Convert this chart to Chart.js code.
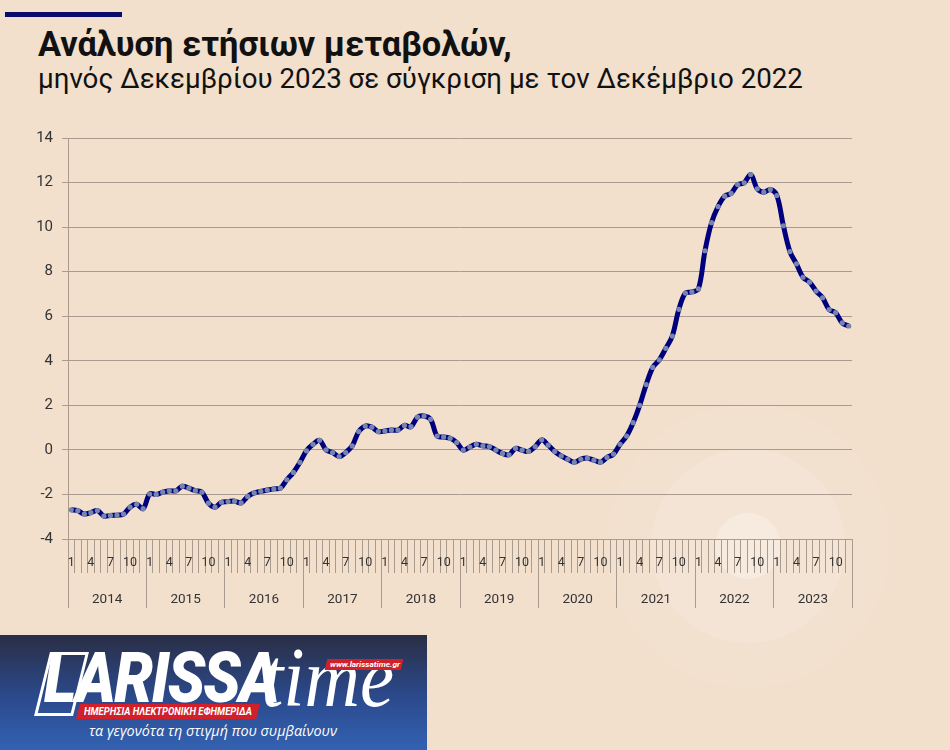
<!DOCTYPE html>
<html><head><meta charset="utf-8">
<script src="https://cdn.jsdelivr.net/npm/chart.js@4.4.1/dist/chart.umd.min.js"></script>
<style>
html,body{margin:0;padding:0;}
body{width:950px;height:750px;background:#f2dfcc;position:relative;overflow:hidden;font-family:Roboto,sans-serif;}
.circ{position:absolute;border-radius:50%;}
#c1{left:606px;top:404px;width:284px;height:284px;background:rgba(255,255,255,0.08);}
#c2{left:651px;top:449px;width:194px;height:194px;background:rgba(255,255,255,0.11);}
#c3{left:715px;top:513px;width:66px;height:66px;background:rgba(255,255,255,0.28);}
#bar{position:absolute;left:5px;top:12px;width:117px;height:5px;background:#0b0b6b;}
#title{position:absolute;left:38px;top:26px;font-weight:700;font-size:31px;color:#111;white-space:nowrap;line-height:1;}
#sub{position:absolute;left:38px;top:64px;font-size:27px;color:#111;white-space:nowrap;line-height:1;}
#wrap{position:absolute;left:0;top:120px;width:950px;height:500px;}
#logo{position:absolute;left:0;top:635px;width:427px;height:115px;background:linear-gradient(#2a2e45,#2b4a8e 55%,#3362b2);overflow:hidden;}
#logo div{position:absolute;white-space:nowrap;}
#lbox{left:42px;top:17px;width:33px;height:58px;border:3px solid #fff;transform:skewX(-14deg);}
#lar{left:44px;top:8px;color:#fff;font:italic 900 70px Roboto,sans-serif;line-height:1;letter-spacing:-2px;}
#time{left:262px;top:1px;color:#fff;font:italic 400 84px "Liberation Serif",serif;line-height:1;}
#band{left:78px;top:69px;width:180px;height:15px;background:#d1202a;transform:skewX(-14deg);}
#bandt{left:84px;top:70px;color:#fff;font:italic 700 11px Roboto,sans-serif;line-height:13px;}
#url{left:326px;top:24px;width:76px;height:11px;background:#d1202a;transform:skewX(-14deg);}
#urlt{left:330px;top:24px;color:#fff;font:italic 700 8px Roboto,sans-serif;line-height:11px;}
#tag{left:89px;top:86px;color:#fff;font:italic 400 15px "Open Sans",sans-serif;line-height:18px;}
</style></head>
<body>
<div class="circ" id="c1"></div><div class="circ" id="c2"></div><div class="circ" id="c3"></div>
<div id="bar"></div>
<div id="title">Ανάλυση ετήσιων μεταβολών,</div>
<div id="sub">μηνός Δεκεμβρίου 2023 σε σύγκριση με τον Δεκέμβριο 2022</div>
<div id="wrap"><canvas id="chart" width="950" height="500"></canvas></div>
<div id="logo">
  <div id="lbox"></div>
  <div id="lar">LARISSA</div>
  <div id="band"></div>
  <div id="bandt">ΗΜΕΡΗΣΙΑ ΗΛΕΚΤΡΟΝΙΚΗ ΕΦΗΜΕΡΙΔΑ</div>
  <div id="time">time</div>
  <div id="url"></div>
  <div id="urlt">www.larissatime.gr</div>
  <div id="tag">τα γεγονότα τη στιγμή που συμβαίνουν</div>
</div>
<script>
// ---- data ----
const years = ['2014','2015','2016','2017','2018','2019','2020','2021','2022','2023'];
const monthLabelsShown = ['1','4','7','10'];
const yTicks = [-4,-2,0,2,4,6,8,10,12,14];
const v2014 = [-2.69,-2.73,-2.88,-2.82,-2.72,-2.97,-2.94,-2.93,-2.88,-2.57,-2.44,-2.64];
const v2015 = [-1.98,-2.00,-1.90,-1.83,-1.84,-1.63,-1.72,-1.83,-1.90,-2.39,-2.57,-2.35];
const v2016 = [-2.32,-2.30,-2.38,-2.09,-1.93,-1.86,-1.80,-1.75,-1.72,-1.34,-1.01,-0.56];
const v2017 = [-0.04,0.25,0.43,0.00,-0.12,-0.30,-0.12,0.18,0.82,1.07,1.02,0.82];
const v2018 = [0.85,0.89,0.89,1.10,1.04,1.47,1.52,1.37,0.62,0.58,0.52,0.33];
const v2019 = [-0.01,0.13,0.25,0.18,0.15,-0.01,-0.16,-0.22,0.07,-0.01,-0.07,0.15];
const v2020 = [0.45,0.21,-0.07,-0.27,-0.42,-0.56,-0.42,-0.37,-0.46,-0.55,-0.34,-0.19];
const v2021 = [0.25,0.62,1.22,2.00,2.93,3.70,4.04,4.56,5.11,6.31,7.04,7.09];
const v2022 = [7.23,8.94,10.20,10.92,11.39,11.51,11.91,11.99,12.36,11.72,11.57,11.69];
const v2023 = [11.42,10.06,8.90,8.35,7.75,7.53,7.13,6.83,6.30,6.16,5.70,5.56];

const values = [].concat(v2014,v2015,v2016,v2017,v2018,v2019,v2020,v2021,v2022,v2023);
const categories = [];
years.forEach(y => { for (let m = 1; m <= 12; m++) categories.push(y + '-' + m); });

// ---- fit titles ----
function fitText(id, target, baseline) {
  const el = document.getElementById(id);
  const fs = parseFloat(getComputedStyle(el).fontSize);
  const w = el.getBoundingClientRect().width;
  const nfs = fs * target / w;
  el.style.fontSize = nfs + 'px';
  el.style.top = (baseline - 0.8415 * nfs) + 'px';
}
fitText('title', 474, 56);
fitText('sub', 765, 88);
function fitW(id, target) {
  const el = document.getElementById(id);
  const w = el.getBoundingClientRect().width;
  el.style.transformOrigin = '0 0';
  el.style.transform = 'scaleX(' + (target / w) + ')';
}
fitW('lar', 234);
fitW('time', 132);
fitW('bandt', 168);
fitW('urlt', 70);
fitW('tag', 248);

const gc = '#a99b8d';
const txt = '#333333';

new Chart(document.getElementById('chart'), {
  type: 'line',
  data: {
    labels: categories,
    datasets: [{
      data: values,
      borderColor: '#00007f',
      borderWidth: 5,
      tension: 0.35,
      pointRadius: 2.6,
      pointBackgroundColor: '#7585ad',
      pointBorderWidth: 0,
      pointHoverRadius: 0,
      fill: false
    }]
  },
  options: {
    responsive: false,
    animation: false,
    events: [],
    layout: { padding: { left: 0, right: 98, top: 15, bottom: 9 } },
    plugins: { legend: { display: false }, tooltip: { enabled: false } },
    scales: {
      x: {
        type: 'category',
        offset: true,
        grid: { offset: true, drawOnChartArea: false, color: gc, tickLength: 34, lineWidth: 1 },
        border: { display: true, color: gc },
        ticks: {
          autoSkip: false, maxRotation: 0, minRotation: 0, padding: -18,
          color: txt, font: { family: 'Roboto', size: 12.5 },
          callback: function (v, i) {
            const m = String((i % 12) + 1);
            return monthLabelsShown.includes(m) ? m : '';
          }
        },
        afterFit: s => { s.height = 32; }
      },
      x2: {
        type: 'category',
        labels: years,
        position: 'bottom',
        offset: true,
        grid: { offset: true, drawOnChartArea: false, color: gc, tickLength: 37, lineWidth: 1 },
        border: { display: false },
        ticks: { autoSkip: false, maxRotation: 0, padding: -16, color: txt, font: { family: 'Roboto', size: 13.5 } },
        afterFit: s => { s.height = 40; }
      },
      y: {
        min: -4, max: 14,
        afterBuildTicks: s => { s.ticks = yTicks.map(v => ({ value: v })); },
        grid: { color: gc, tickLength: 6, lineWidth: 1 },
        border: { display: true, color: gc },
        ticks: { padding: 9, color: txt, font: { family: 'Roboto', size: 15 } },
        afterFit: s => { s.width = 68; }
      }
    }
  }
});
</script>
</body></html>
